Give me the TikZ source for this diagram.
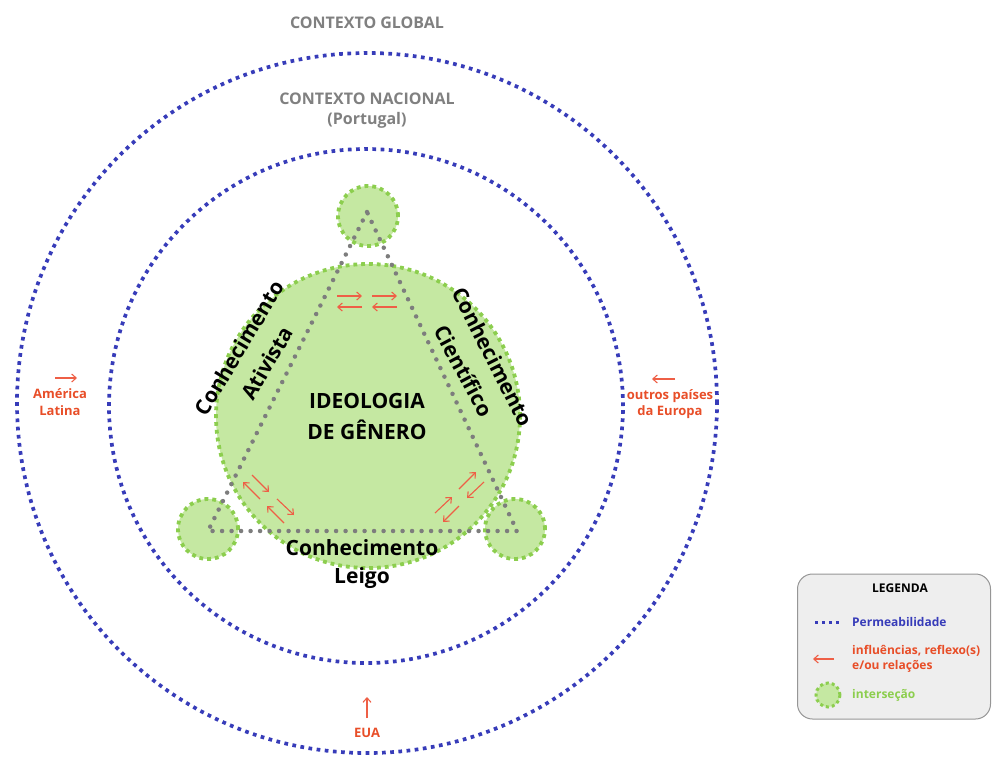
\documentclass[tikz,border=0pt]{standalone}
\usepackage{fontspec}
\setmainfont{Open Sans}
\usetikzlibrary{arrows.meta}
\definecolor{pblue}{RGB}{55,60,185}
\definecolor{gfill}{RGB}{197,232,162}
\definecolor{gdot}{RGB}{140,206,78}
\definecolor{rarrow}{RGB}{238,95,70}
\definecolor{rtext}{RGB}{232,78,40}
\definecolor{gtext}{RGB}{128,128,128}
\definecolor{tgray}{RGB}{125,125,125}
\definecolor{lfill}{RGB}{238,238,238}
\definecolor{lborder}{RGB}{150,150,150}
\tikzset{
  permeab/.style={draw=pblue, line width=3.7, dash pattern=on 3.7 off 4.5},
  interbig/.style={circle, fill=gfill, draw=gdot, line width=3.8, dash pattern=on 3.8 off 4},
  intersmall/.style={interbig, minimum size=60, inner sep=0},
  tri/.style={draw=tgray, line width=4.5, line cap=round, dash pattern=on 0 off 9.5},
  rel/.style={draw=rarrow, line width=1.1, -{Straight Barb[length=4.5pt,width=8pt]}},
  ctxt/.style={text=gtext, font=\fontsize{16}{20}\selectfont\bfseries, align=center},
  ktxt/.style={text=black, font=\fontsize{21}{24}\selectfont\bfseries, inner sep=0},
  itxt/.style={text=rtext, font=\fontsize{13}{16.5}\selectfont\bfseries, align=center, inner sep=0},
  legtxt/.style={font=\fontsize{12}{15.5}\selectfont\bfseries, align=left, anchor=west, inner sep=0}
}
\begin{document}
\begin{tikzpicture}[x=1pt,y=-1pt]
\useasboundingbox (0,0) rectangle (993,758);
% context circles
\node[circle, minimum size=700, inner sep=0, permeab] (global) at (367,403) {};
\node[circle, minimum size=514, inner sep=0, permeab] (nacional) at (366,406) {};
\node[ctxt] (tglobal) at (367,23) {CONTEXTO GLOBAL};
\node[ctxt] (tnac) at (367,111) {CONTEXTO NACIONAL\\(Portugal)};
% intersections
\node[interbig, minimum size=304, inner sep=0] (ideo) at (368,416) {};
\node[intersmall] (cT) at (368,216) {};
\node[intersmall] (cL) at (208,529) {};
\node[intersmall] (cR) at (515,529) {};
% triangle
\coordinate (vT) at (367,212);
\coordinate (vL) at (208,531);
\coordinate (vR) at (517,531);
\draw[tri] (vT) -- (vL) -- (vR) -- cycle;
% relation arrows top
\coordinate (a1s) at (337,296); \coordinate (a1e) at (362,296);
\coordinate (a2s) at (362,307); \coordinate (a2e) at (337,307);
\coordinate (a3s) at (372,296); \coordinate (a3e) at (397,296);
\coordinate (a4s) at (397,307); \coordinate (a4e) at (372,307);
\draw[rel] (a1s) -- (a1e);
\draw[rel] (a2s) -- (a2e);
\draw[rel] (a3s) -- (a3e);
\draw[rel] (a4s) -- (a4e);
% bottom-left
\coordinate (b1s) at (252,475); \coordinate (b1e) at (269,492);
\coordinate (b2s) at (260,499); \coordinate (b2e) at (243,482);
\coordinate (b3s) at (277,499); \coordinate (b3e) at (294,515);
\coordinate (b4s) at (284,523); \coordinate (b4e) at (267,506);
\draw[rel] (b1s) -- (b1e);
\draw[rel] (b2s) -- (b2e);
\draw[rel] (b3s) -- (b3e);
\draw[rel] (b4s) -- (b4e);
% bottom-right
\coordinate (c1s) at (459,489); \coordinate (c1e) at (476,472);
\coordinate (c2s) at (484,482); \coordinate (c2e) at (467,498);
\coordinate (c3s) at (435,513); \coordinate (c3e) at (452,497);
\coordinate (c4s) at (459,506); \coordinate (c4e) at (443,522);
\draw[rel] (c1s) -- (c1e);
\draw[rel] (c2s) -- (c2e);
\draw[rel] (c3s) -- (c3e);
\draw[rel] (c4s) -- (c4e);
% central texts
\node[ktxt, align=center, font=\fontsize{21}{31}\selectfont\bfseries] (tideo) at (367,416) {IDEOLOGIA\\DE GÊNERO};
\node[ktxt, rotate=59] (kA1) at (239,348) {Conhecimento};
\node[ktxt, rotate=59.5] (kA2) at (267,363) {Ativista};
\node[ktxt, rotate=-63] (kC1) at (493,357) {Conhecimento};
\node[ktxt, rotate=-62] (kC2) at (464,371) {Científico};
\node[ktxt] (kL1) at (362,548) {Conhecimento};
\node[ktxt] (kL2) at (362,578) {Leigo};
% influences
\coordinate (amS) at (55,378); \coordinate (amE) at (77,378);
\draw[rel] (amS) -- (amE);
\node[itxt] (tam) at (60,402) {América\\Latina};
\coordinate (euS) at (675,379); \coordinate (euE) at (652,379);
\draw[rel] (euS) -- (euE);
\node[itxt] (teu) at (670,404) {outros países\\da Europa};
\coordinate (usS) at (367,718); \coordinate (usE) at (367,697);
\draw[rel] (usS) -- (usE);
\node[itxt] (tus) at (367,733) {EUA};
% legend
\node[draw=lborder, fill=lfill, rounded corners=15, line width=1, minimum width=193, minimum height=145, inner sep=0] (leg) at (894,646.5) {};
\node[font=\fontsize{12}{15}\selectfont\bfseries, inner sep=0] (legt) at (900,588) {LEGENDA};
\coordinate (lpS) at (815,622); \coordinate (lpE) at (841,622);
\draw[draw=pblue, line width=3, dash pattern=on 3 off 4] (lpS) -- (lpE);
\node[legtxt, text=pblue] (lp) at (852,622) {Permeabilidade};
\coordinate (lrS) at (834,659); \coordinate (lrE) at (813,659);
\draw[rel] (lrS) -- (lrE);
\node[legtxt, text=rtext] (lr) at (852,659) {influências, reflexo(s)\\e/ou relações};
\node[interbig, minimum size=24, inner sep=0, line width=3, dash pattern=on 3 off 3] (lg) at (828,695) {};
\node[legtxt, text=gdot] (li) at (852,695) {interseção};
\end{tikzpicture}
\end{document}
